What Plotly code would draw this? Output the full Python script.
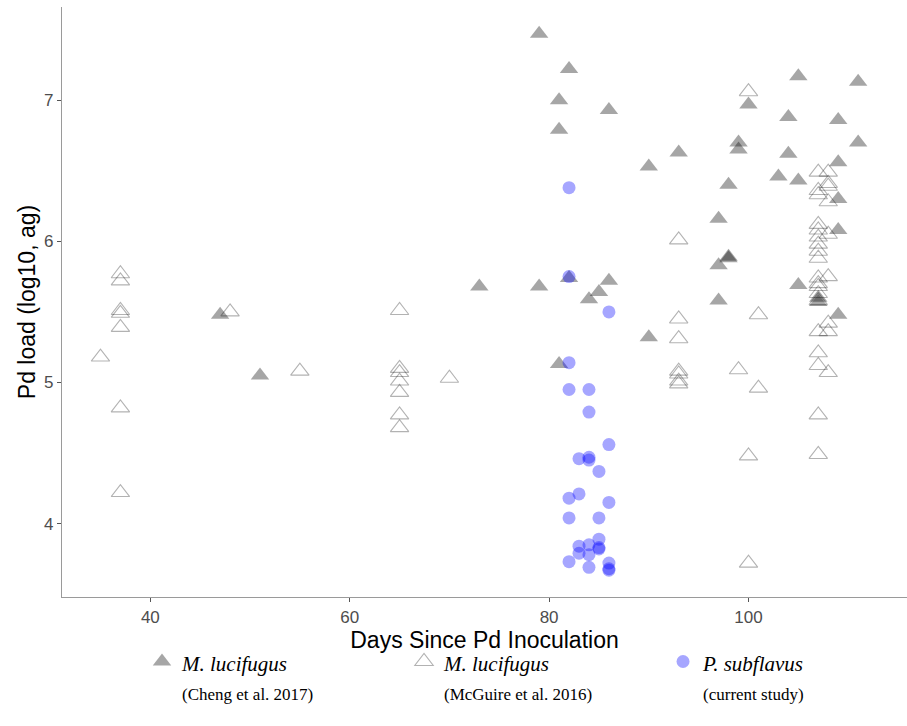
import plotly.graph_objects as go

# Cheng et al. 2017 (filled triangles)
cheng_days = [79, 82, 81, 86, 81, 82, 79, 86, 85, 84, 81, 73, 47, 51,
              90, 93, 90, 97, 97, 97, 98, 98, 98, 99, 99, 100, 103, 104, 104,
              105, 105, 105, 107, 107, 109, 109, 109, 109, 109, 111, 111]
cheng_load = [7.47, 7.22, 7.00, 6.93, 6.79, 5.74, 5.68, 5.72, 5.64, 5.59, 5.13, 5.68, 5.48, 5.05,
              6.53, 6.63, 5.32, 6.16, 5.83, 5.58, 6.40, 5.89, 5.88, 6.70, 6.65, 6.97, 6.46, 6.88, 6.62,
              7.17, 6.43, 5.69, 5.60, 5.57, 6.86, 6.56, 6.30, 6.08, 5.48, 7.13, 6.70]

# McGuire et al. 2016 (open triangles)
mcguire_days = [35, 37, 37, 37, 37, 37, 37, 37, 48, 55, 65, 65, 65, 65, 65, 65, 65, 70,
                93, 93, 93, 93, 93, 93, 93, 99, 100, 100, 100, 101, 101,
                107, 107, 107, 107, 107, 107, 107, 107, 107, 107, 107, 107, 107, 107, 107, 107, 107, 107, 107,
                108, 108, 108, 108, 108, 108, 108, 108, 108]
mcguire_load = [5.18, 5.77, 5.72, 5.51, 5.49, 5.39, 4.82, 4.22, 5.50, 5.08, 5.51, 5.10, 5.07, 5.01, 4.93, 4.77, 4.68, 5.03,
                6.01, 5.45, 5.31, 5.08, 5.06, 5.01, 4.99, 5.09, 7.06, 4.48, 3.72, 5.48, 4.96,
                6.49, 6.36, 6.33, 6.12, 6.08, 6.03, 5.98, 5.93, 5.88, 5.74, 5.70, 5.68, 5.63, 5.58, 5.36, 5.21, 5.12, 4.77, 4.49,
                6.49, 6.41, 6.39, 6.28, 6.05, 5.75, 5.42, 5.36, 5.07]

# P. subflavus, current study (circles)
current_days = [82, 82, 82, 82, 82, 82, 82,
                83, 83, 83, 83,
                84, 84, 84, 84, 84, 84, 84,
                85, 85, 85, 85, 85,
                86, 86, 86, 86, 86, 86]
current_load = [6.38, 5.75, 5.14, 4.95, 4.18, 4.04, 3.73,
                4.46, 4.21, 3.84, 3.79,
                4.95, 4.79, 4.47, 4.45, 3.85, 3.78, 3.69,
                4.37, 4.04, 3.89, 3.83, 3.82,
                5.50, 4.56, 4.15, 3.72, 3.68, 3.67]

x_ticks = [40, 60, 80, 100]
y_ticks = [4, 5, 6, 7]

serif = "Liberation Serif, Times New Roman, serif"
sans = "Liberation Sans, Arial, sans-serif"

def leg(name, ref):
    return ("<span style='font-size:21px'><i>%s</i></span><br>"
            "<span style='font-size:17px'>%s</span>" % (name, ref))

fig = go.Figure()
fig.add_trace(go.Scatter(
    x=cheng_days, y=cheng_load, mode="markers",
    name=leg("M. lucifugus", "(Cheng et al. 2017)"),
    legendwidth=217,
    marker=dict(symbol="triangle-up", size=16, color="rgba(0,0,0,0.35)", line=dict(width=0)),
))
fig.add_trace(go.Scatter(
    x=mcguire_days, y=mcguire_load, mode="markers",
    name=leg("M. lucifugus", "(McGuire et al. 2016)"),
    legendwidth=214,
    marker=dict(symbol="triangle-up-open", size=16, color="rgba(0,0,0,0.3)", line=dict(width=1.1)),
))
fig.add_trace(go.Scatter(
    x=current_days, y=current_load, mode="markers",
    name=leg("P. subflavus", "(current study)"),
    legendwidth=120,
    marker=dict(symbol="circle", size=13, color="rgba(0,0,255,0.35)", line=dict(width=0)),
))

fig.update_layout(
    width=907, height=726,
    margin=dict(l=62, r=0, t=7, b=129),
    paper_bgcolor="white", plot_bgcolor="white",
    font=dict(family=sans, color="#4d4d4d"),
    showlegend=True,
    legend=dict(
        orientation="h", x=0.0947, xanchor="left", y=-0.073, yanchor="top",
        font=dict(family=serif, size=23, color="black"),
        valign="top",
        itemclick=False, itemdoubleclick=False,
    ),
)
fig.update_xaxes(
    range=[31.14, 115.9], tickvals=x_ticks, ticktext=[str(v) for v in x_ticks],
    showgrid=False, zeroline=False, showline=True, linecolor="#9a9a9a", linewidth=1.3,
    ticks="outside", ticklen=4, tickcolor="#555", tickwidth=1,
    tickfont=dict(size=17, color="#4d4d4d", family=sans),
    title=dict(text="Days Since Pd Inoculation", font=dict(size=23, color="black", family=sans), standoff=3),
)
fig.update_yaxes(
    range=[3.48, 7.66], tickvals=y_ticks, ticktext=[str(v) for v in y_ticks],
    showgrid=False, zeroline=False, showline=True, linecolor="#9a9a9a", linewidth=1.3,
    ticks="outside", ticklen=4, tickcolor="#555", tickwidth=1,
    tickfont=dict(size=17, color="#4d4d4d", family=sans),
    title=dict(text="Pd load (log10, ag)", font=dict(size=23, color="black", family=sans), standoff=1),
)

fig.write_html("out.html")
